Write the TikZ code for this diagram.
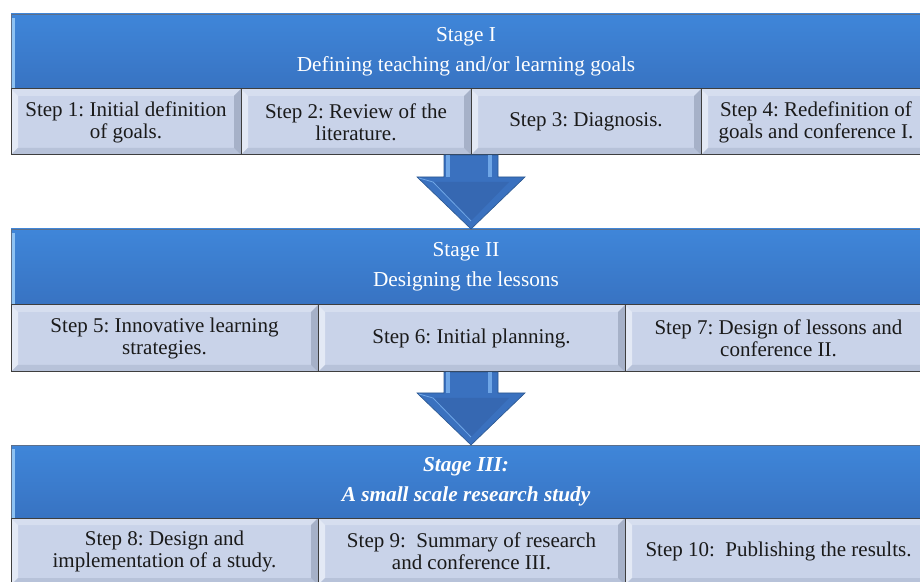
\documentclass[tikz,border=0pt]{standalone}
\usepackage{fontspec}
\setmainfont{Liberation Serif}
\usetikzlibrary{calc}
\frenchspacing

\definecolor{stagetop}{HTML}{3F86D9}
\definecolor{stagebottom}{HTML}{3873C2}
\definecolor{stageedge}{HTML}{5B6F8C}
\definecolor{stagelight}{HTML}{8EC2F2}
\definecolor{stepfill}{HTML}{C9D3E9}
\definecolor{steptop}{HTML}{D6DEEF}
\definecolor{stepleft}{HTML}{E3E9F5}
\definecolor{stepbottom}{HTML}{B7C2D9}
\definecolor{stepright}{HTML}{A6B1C8}
\definecolor{stepedge}{HTML}{3E3E3E}
\definecolor{steptext}{HTML}{1A1A1A}
\definecolor{arrowblue}{HTML}{3A71BF}
\definecolor{arrowedge}{HTML}{2B578F}
\definecolor{arrowlight}{HTML}{6FA6E6}
\definecolor{arrowdark}{HTML}{3668B2}

\tikzset{
  stagebox/.style={draw=stageedge, line width=0.8pt, top color=stagetop,
    bottom color=stagebottom, text=white, align=center, outer sep=0pt,
    minimum width=910pt, font=\fontsize{21.3}{30}\selectfont,
    path picture={
      \fill[stagelight] (path picture bounding box.south west) rectangle
        ($(path picture bounding box.north west)+(4pt,-4pt)$);
    }},
  stepbox/.style={draw=stepedge, line width=1pt, fill=stepfill, text=steptext,
    align=center, outer sep=0pt, font=\fontsize{21}{22}\selectfont,
    path picture={
      \coordinate (bb-sw) at (path picture bounding box.south west);
      \coordinate (bb-ne) at (path picture bounding box.north east);
      \fill[steptop] (bb-sw |- bb-ne) -- (bb-ne) -- ($(bb-ne)+(-7pt,-7pt)$)
        -- ($(bb-sw |- bb-ne)+(7pt,-7pt)$) -- cycle;
      \fill[stepleft] (bb-sw) -- (bb-sw |- bb-ne) -- ($(bb-sw |- bb-ne)+(7pt,-7pt)$)
        -- ($(bb-sw)+(7pt,7pt)$) -- cycle;
      \fill[stepbottom] (bb-sw) -- (bb-ne |- bb-sw) -- ($(bb-ne |- bb-sw)+(-7pt,7pt)$)
        -- ($(bb-sw)+(7pt,7pt)$) -- cycle;
      \fill[stepright] (bb-ne |- bb-sw) -- (bb-ne) -- ($(bb-ne)+(-7pt,-7pt)$)
        -- ($(bb-ne |- bb-sw)+(-7pt,7pt)$) -- cycle;
    }},
  rowI/.style={stepbox, minimum width=230pt, minimum height=66pt},
  rowII/.style={stepbox, minimum width=307pt, minimum height=67pt},
}

\newcommand{\blockarrow}[2]{%
  \fill[arrowblue, draw=arrowedge, line width=0.6pt]
    ($(#1)+(-27,0)$) -- ($(#2)+(-27,52)$) -- ($(#2)+(-54,52)$) -- (#2)
    -- ($(#2)+(54,52)$) -- ($(#2)+(27,52)$) -- ($(#1)+(27,0)$) -- cycle;
  \fill[arrowlight] ($(#1)+(-25,0)$) rectangle ($(#2)+(-21,52)$);
  \fill[arrowlight] ($(#1)+(17,0)$) rectangle ($(#2)+(21,52)$);
  \fill[arrowdark] ($(#2)+(-38,47)$) -- ($(#2)+(38,47)$) -- ($(#2)+(0,8)$) -- cycle;
  \draw[arrowlight, line width=0.8pt] ($(#2)+(-52,51)$) -- ($(#2)+(-38,47)$) -- ($(#2)+(0,8)$);
}

\begin{document}
\begin{tikzpicture}[x=1pt, y=1pt]
\useasboundingbox (0,0) rectangle (920,581);
\clip (0,0) rectangle (920,581);

\node[stagebox, minimum height=75pt] (stageI) at (466,529.5)
  {Stage I\\ Defining teaching and/or learning goals};
\node[rowI, anchor=north west] (step1) at (stageI.south west) {Step 1: Initial definition\\ of goals.};
\node[rowI, anchor=west] (step2) at (step1.east) {Step 2: Review of the\\ literature.};
\node[rowI, anchor=west] (step3) at (step2.east) {Step 3: Diagnosis.};
\node[rowI, anchor=west] (step4) at (step3.east) {Step 4: Redefinition of\\ goals and conference I.};

\node[stagebox, minimum height=76pt] (stageII) at (466,314)
  {Stage II\\ Designing the lessons};
\node[rowII, anchor=north west] (step5) at (stageII.south west) {Step 5: Innovative learning\\ strategies.};
\node[rowII, anchor=west] (step6) at (step5.east) {Step 6: Initial planning.};
\node[rowII, anchor=west] (step7) at (step6.east) {Step 7: Design of lessons and\\ conference II.};

\node[stagebox, minimum height=73pt, font=\fontsize{21.3}{30}\selectfont\bfseries\itshape] (stageIII) at (466,99.5)
  {Stage III:\\ A small scale research study};
\node[rowII, anchor=north west] (step8) at (stageIII.south west) {Step 8: Design and\\ implementation of a study.};
\node[rowII, anchor=west] (step9) at (step8.east) {Step 9:~ Summary of research\\ and conference III.};
\node[rowII, anchor=west] (step10) at (step9.east) {Step 10:~ Publishing the results.};

\coordinate (axis) at (471,0);
\blockarrow{step2.south east}{stageII.north -| axis}
\blockarrow{step5.south -| axis}{stageIII.north -| axis}

\end{tikzpicture}
\end{document}
